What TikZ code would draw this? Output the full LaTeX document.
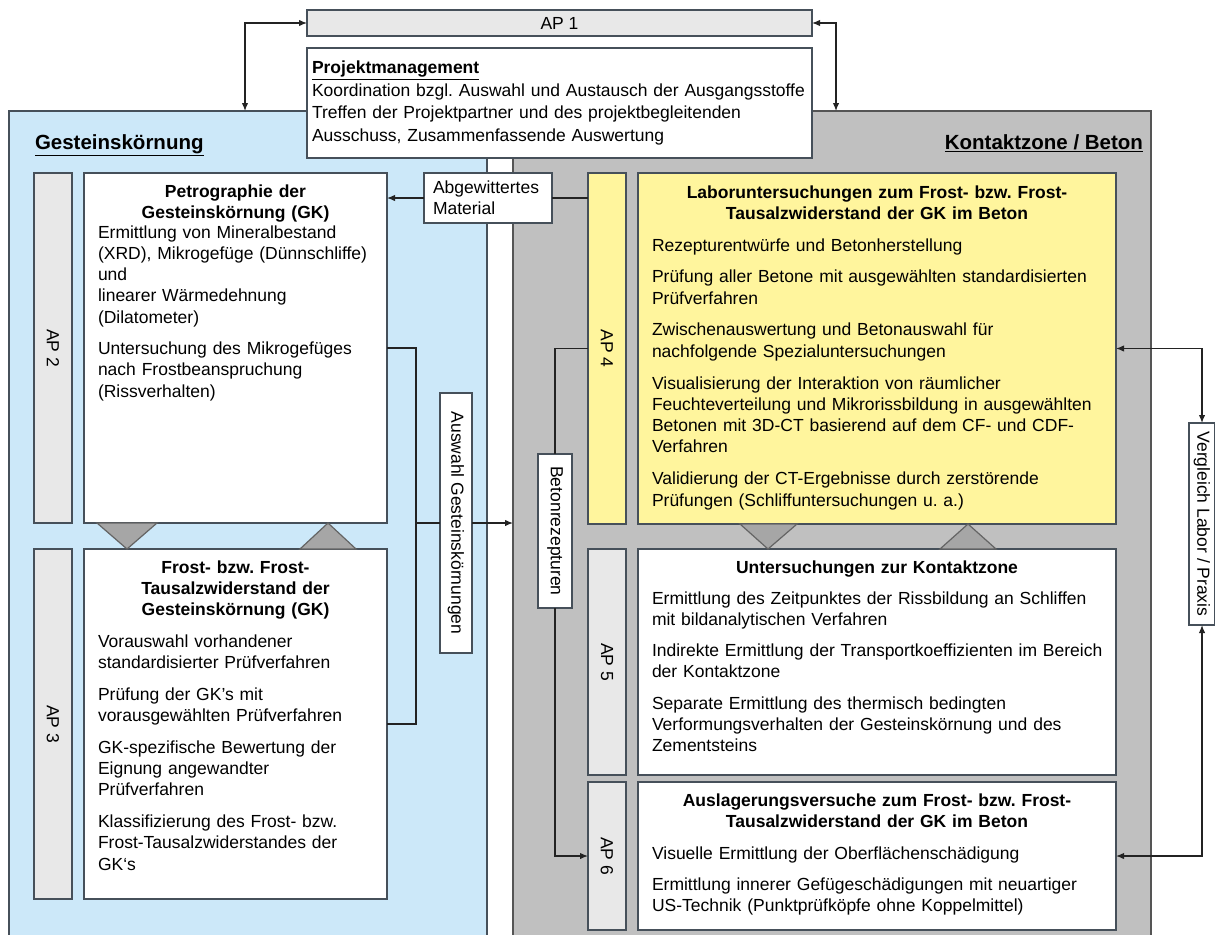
\documentclass[tikz,border=0pt]{standalone}
\usepackage{fontspec}
\setmainfont{Liberation Sans}
\usetikzlibrary{arrows.meta}
\frenchspacing
\hyphenpenalty=10000
\exhyphenpenalty=10000
\definecolor{bluefill}{RGB}{204,232,249}
\definecolor{grayfill}{RGB}{192,192,192}
\definecolor{yellowfill}{RGB}{255,245,157}
\definecolor{barfill}{RGB}{232,232,232}
\definecolor{trifill}{RGB}{166,166,166}
\definecolor{tribord}{RGB}{100,100,100}
\definecolor{edge}{RGB}{70,80,90}
\definecolor{grayedge}{RGB}{85,85,85}
\definecolor{linecol}{RGB}{35,35,35}
\begin{document}
\begin{tikzpicture}[x=1pt,y=-1pt,
  >={Latex[length=8pt,width=6.5pt]},
  every node/.style={inner sep=0pt, outer sep=0pt, text=black, font=\frenchspacing\fontsize{17.5}{21.3}\selectfont},
  bx/.style={draw=edge, line width=1.4pt},
  panel/.style={draw=edge, line width=1.6pt},
  sz/.style 2 args={minimum width=#1, minimum height=#2},
  conn/.style={draw=linecol, line width=1.3pt},
  tri/.style={draw=tribord, fill=trifill, line width=1.2pt, line join=miter},
  bodytxt/.style={anchor=base west, text width=#1, align=left},
  titletxt/.style={anchor=base, text width=#1, align=center, font=\frenchspacing\bfseries\fontsize{17.5}{21.3}\selectfont},
  head/.style={font=\bfseries\fontsize{20.5}{24}\selectfont}
]
\useasboundingbox (0,0) rectangle (1215,934);
\clip (0,0) rectangle (1215,934);

% panels
\node[panel, fill=bluefill, sz={478}{860}, anchor=north west] (bluep) at (9,111) {};
\node[panel, draw=grayedge, fill=grayfill, sz={638}{860}, anchor=north west] (grayp) at (513,111) {};
\node[head, anchor=base west] (hg) at (35,149) {\underline{Gesteinskörnung}};
\node[head, anchor=base east] (hk) at (1143,149) {\underline{Kontaktzone / Beton}};

% AP 1 and project management
\node[bx, fill=barfill, sz={505}{26}] (ap1) at (559.5,23) {AP 1};
\node[bx, fill=white, sz={505}{110}] (pm) at (559.5,103) {};
\node[bodytxt=500, font=\frenchspacing\fontsize{17.5}{22.5}\selectfont] (pmt) at (312,74)
  {\textbf{\underline{Projektmanagement}}\\Koordination bzgl. Auswahl und Austausch der Ausgangsstoffe\\Treffen der Projektpartner und des projektbegleitenden\\Ausschuss, Zusammenfassende Auswertung};

% left column
\node[bx, fill=barfill, sz={38}{350}] (ap2) at (53,348) {};
\node[rotate=-90] (ap2t) at (ap2.center) {AP 2};
\node[bx, fill=white, sz={303}{350}] (petro) at (235.5,348) {};
\node[titletxt=303] (petroh) at (235.5,197) {Petrographie der\\Gesteinskörnung (GK)};
\node[bodytxt=285] (petrob) at (98,238) {Ermittlung von Mineralbestand\\(XRD), Mikrogefüge (Dünnschliffe)\\und\\linearer Wärmedehnung\\(Dilatometer)\\[10pt]Untersuchung des Mikrogefüges\\nach Frostbeanspruchung\\(Rissverhalten)};

\node[bx, fill=barfill, sz={38}{350}] (ap3) at (53,724) {};
\node[rotate=-90] (ap3t) at (ap3.center) {AP 3};
\node[bx, fill=white, sz={303}{350}] (frost) at (235.5,724) {};
\node[titletxt=303] (frosth) at (235.5,573) {Frost- bzw. Frost-\\Tausalzwiderstand der\\Gesteinskörnung (GK)};
\node[bodytxt=285] (frostb) at (98,647) {Vorauswahl vorhandener\\standardisierter Prüfverfahren\\[10.5pt]Prüfung der GK’s mit\\vorausgewählten Prüfverfahren\\[10.5pt]GK-spezifische Bewertung der\\Eignung angewandter\\Prüfverfahren\\[10.5pt]Klassifizierung des Frost- bzw.\\Frost-Tausalzwiderstandes der\\GK‘s};

% right column
\node[bx, fill=yellowfill, sz={38}{351}] (ap4) at (607,348.5) {};
\node[rotate=-90] (ap4t) at (ap4.center) {AP 4};
\node[bx, fill=yellowfill, sz={478}{351}] (lab) at (877,348.5) {};
\node[titletxt=478] (labh) at (877,198) {Laboruntersuchungen zum Frost- bzw. Frost-\\Tausalzwiderstand der GK im Beton};
\node[bodytxt=462] (labb) at (652,251) {Rezepturentwürfe und Betonherstellung\\[10.5pt]Prüfung aller Betone mit ausgewählten standardisierten\\Prüfverfahren\\[10.5pt]Zwischenauswertung und Betonauswahl für\\nachfolgende Spezialuntersuchungen\\[10.5pt]Visualisierung der Interaktion von räumlicher\\Feuchteverteilung und Mikrorissbildung in ausgewählten\\Betonen mit 3D-CT basierend auf dem CF- und CDF-\\Verfahren\\[10.5pt]Validierung der CT-Ergebnisse durch zerstörende\\Prüfungen (Schliffuntersuchungen u. a.)};

\node[bx, fill=barfill, sz={38}{226}] (ap5) at (607,662) {};
\node[rotate=-90] (ap5t) at (ap5.center) {AP 5};
\node[bx, fill=white, sz={478}{226}] (kz) at (877,662) {};
\node[titletxt=478] (kzh) at (877,573) {Untersuchungen zur Kontaktzone};
\node[bodytxt=462] (kzb) at (652,604) {Ermittlung des Zeitpunktes der Rissbildung an Schliffen\\mit bildanalytischen Verfahren\\[10pt]Indirekte Ermittlung der Transportkoeffizienten im Bereich\\der Kontaktzone\\[10pt]Separate Ermittlung des thermisch bedingten\\Verformungsverhalten der Gesteinskörnung und des\\Zementsteins};

\node[bx, fill=barfill, sz={38}{148}] (ap6) at (607,856) {};
\node[rotate=-90] (ap6t) at (ap6.center) {AP 6};
\node[bx, fill=white, sz={478}{148}] (aus) at (877,856) {};
\node[titletxt=478] (aush) at (877,806) {Auslagerungsversuche zum Frost- bzw. Frost-\\Tausalzwiderstand der GK im Beton};
\node[bodytxt=462] (ausb) at (652,859) {Visuelle Ermittlung der Oberflächenschädigung\\[10pt]Ermittlung innerer Gefügeschädigungen mit neuartiger\\US-Technik (Punktprüfköpfe ohne Koppelmittel)};

% triangles
\draw[tri] (97,523) -- (157,523) -- (127,549) -- cycle;
\draw[tri] (300,549) -- (356,549) -- (328,523) -- cycle;
\draw[tri] (740,524) -- (797,524) -- (768,549) -- cycle;
\draw[tri] (940,549) -- (996,549) -- (968,524) -- cycle;

% label boxes
\node[bx, fill=white, sz={128}{50}] (abg) at (488,198) {};
\node[bodytxt=120] (abgt) at (433,193) {Abgewittertes\\Material};
\node[bx, fill=white, sz={32}{260}] (ausw) at (456,523) {};
\node[rotate=-90] (auswt) at (ausw.center) {Auswahl Gesteinskörnungen};
\node[bx, fill=white, sz={34}{154}] (beton) at (555,531) {};
\node[rotate=-90] (betont) at (beton.center) {Betonrezepturen};
\node[bx, fill=white, sz={26}{202}] (vgl) at (1202,524) {};
\node[rotate=-90] (vglt) at (vgl.center) {Vergleich Labor / Praxis};

% connectors
\coordinate (c1) at (245,111);
\coordinate (c2) at (836,111);
\coordinate (j) at (416,523);
\draw[conn,<->] (ap1.west) -| (c1);
\draw[conn,<->] (ap1.east) -| (c2);
\draw[conn,->] (abg.west) -- (abg.west -| petro.east);
\draw[conn] (abg.east) -- (abg.east -| ap4.west);
\draw[conn] (petro.east) -| (j) |- (frost.east);
\draw[conn] (j) -- (ausw.west);
\draw[conn,->] (ausw.east) -- (ausw.east -| grayp.west);
\draw[conn] (ap4.west) -| (beton.north);
\draw[conn,->] (beton.south) |- (ap6.west);
\draw[conn,<->] (lab.east) -| (vgl.north);
\draw[conn,<->] (vgl.south) |- (aus.east);
\end{tikzpicture}
\end{document}
